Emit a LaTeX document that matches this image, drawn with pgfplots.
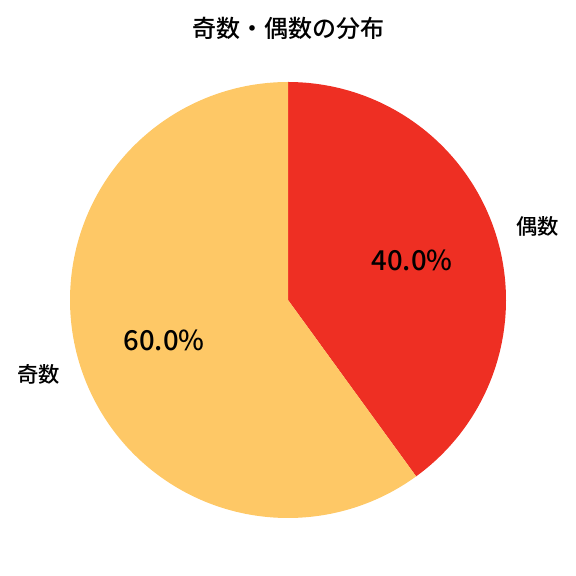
\documentclass[border=0pt]{standalone}
\usepackage{pgfplots}
\pgfplotsset{compat=1.18}
\usepackage{fontspec}
\setmainfont{Noto Sans CJK JP}[UprightFont=* Medium]
\definecolor{cOdd}{RGB}{254,200,102}
\definecolor{cEven}{RGB}{238,47,35}
% data: 偶数 40, 奇数 60 (start at 90 deg, clockwise)
\def\vEven{40}
\def\vOdd{60}
\begin{document}
\begin{tikzpicture}
\pgfmathsetmacro{\aA}{90}
\pgfmathsetmacro{\aB}{90-3.6*\vEven}
\pgfmathsetmacro{\aC}{\aB-3.6*\vOdd}
\begin{axis}[
  width=576bp, height=576bp, scale only axis,
  xmin=0, xmax=576, ymin=0, ymax=576,
  hide axis, clip=false,
]
\path (axis cs:0,0) (axis cs:576,576);
\addplot[draw=none, fill=cEven, domain=\aA:\aB, samples=180, variable=\t]
  ({288+218*cos(\t)},{276+218*sin(\t)}) -- (axis cs:288,276) -- cycle;
\addplot[draw=none, fill=cOdd, domain=\aB:\aC, samples=240, variable=\t]
  ({288+218*cos(\t)},{276+218*sin(\t)}) -- (axis cs:288,276) -- cycle;
\node[font=\fontsize{24bp}{28bp}\selectfont, anchor=center] at (axis cs:288,548) {奇数・偶数の分布};
\node[font=\fontsize{21.3bp}{26bp}\selectfont, anchor=west, inner sep=0pt] at (axis cs:516,350) {偶数};
\node[font=\fontsize{21.3bp}{26bp}\selectfont, anchor=east, inner sep=0pt] at (axis cs:60,202) {奇数};
\node[font=\fontsize{27.5bp}{32bp}\selectfont, anchor=center, inner sep=0pt] at (axis cs:412,316) {40.0\%};
\node[font=\fontsize{27.5bp}{32bp}\selectfont, anchor=center, inner sep=0pt] at (axis cs:164,236) {60.0\%};
\end{axis}
\end{tikzpicture}
\end{document}
